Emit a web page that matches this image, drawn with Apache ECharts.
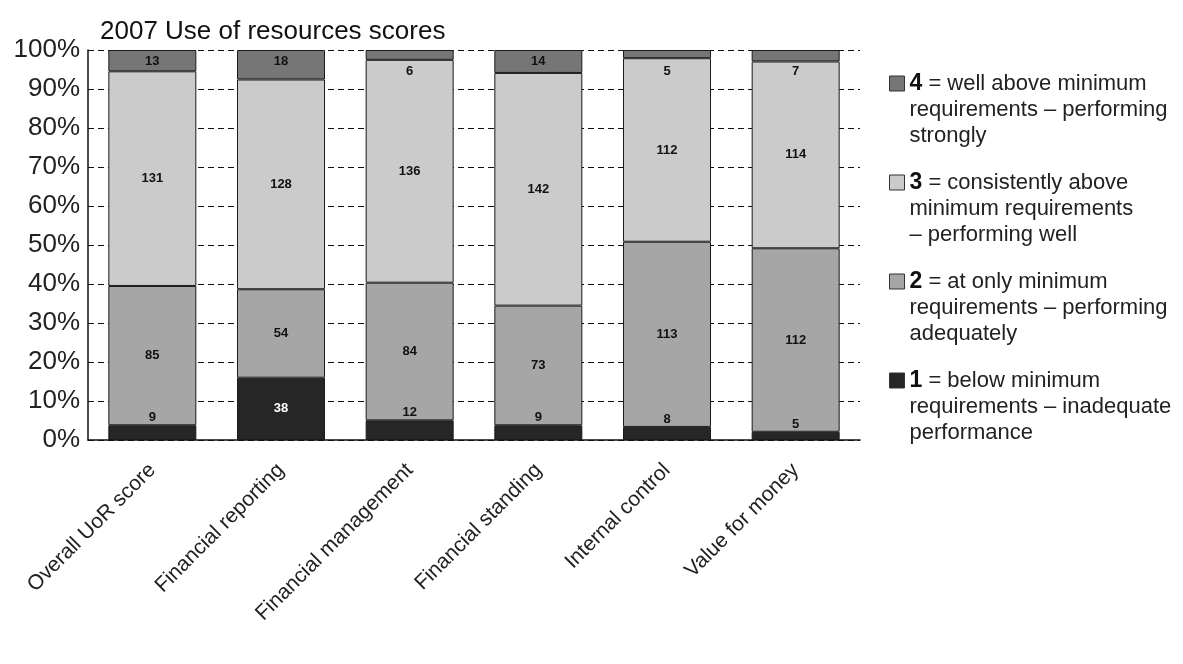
<!DOCTYPE html>
<html>
<head>
<meta charset="utf-8">
<title>2007 Use of resources scores</title>
<script src="https://cdn.jsdelivr.net/npm/echarts@6/dist/echarts.min.js"></script>
<style>
  html, body { margin: 0; padding: 0; background: #ffffff; }
  #chart { width: 1183px; height: 664px; }
</style>
</head>
<body>
<div id="chart"></div>
<script>
// Number of bodies at each score level, per assessment theme
const categories = ['Overall UoR score', 'Financial reporting', 'Financial management',
                    'Financial standing', 'Internal control', 'Value for money'];
const score1 = [9, 38, 12, 9, 8, 5];
const score2 = [85, 54, 84, 73, 113, 112];
const score3 = [131, 128, 136, 142, 112, 114];
const score4 = [13, 18, 6, 14, 5, 7];
const yTicks = ['0%', '10%', '20%', '30%', '40%', '50%', '60%', '70%', '80%', '90%', '100%'];

const legendLines = {
  '4': ['well above minimum', 'requirements – performing', 'strongly'],
  '3': ['consistently above', 'minimum requirements', '– performing well'],
  '2': ['at only minimum', 'requirements – performing', 'adequately'],
  '1': ['below minimum', 'requirements – inadequate', 'performance']
};

const FONT = '"Liberation Sans", Arial, Helvetica, sans-serif';
const totals = categories.map((_, i) => score1[i] + score2[i] + score3[i] + score4[i]);
const share = arr => arr.map((v, i) => v / totals[i] * 100);

const levels = [
  { name: '1', counts: score1, color: '#262626' },
  { name: '2', counts: score2, color: '#a6a6a6' },
  { name: '3', counts: score3, color: '#cbcbcb' },
  { name: '4', counts: score4, color: '#767676' }
];

function labelFor(level, v) {
  const base = { show: true, fontFamily: FONT, fontWeight: 'bold', fontSize: 13, color: '#111' };
  if (level === '1') {
    return v >= 20 ? Object.assign(base, { position: 'inside', color: '#ffffff' })
                   : Object.assign(base, { position: 'top', distance: 1 });
  }
  if (level === '4') {
    return Object.assign(base, { position: 'insideTop', distance: v < 10 ? 15 : 5 });
  }
  return Object.assign(base, { position: 'inside' });
}

const series = levels.map(lv => ({
  name: lv.name,
  type: 'bar',
  stack: 'total',
  barWidth: 88,
  itemStyle: { color: lv.color, borderColor: '#1a1a1a', borderWidth: 1 },
  data: share(lv.counts).map((p, i) => ({
    value: p,
    label: Object.assign(labelFor(lv.name, lv.counts[i]), {
      formatter: () => String(lv.counts[i])
    })
  }))
}));

// Square icon sitting at the top of a three-line legend entry
const LINE_H = 26;
const ITEM_H = LINE_H * 3;
const ICON = 15;
const iconPath = 'path://M0,' + (LINE_H / 2 - ICON / 2) + 'h' + ICON + 'v' + ICON + 'h-' + ICON + 'z M0,0 M' + ICON + ',' + ITEM_H;

const chart = echarts.init(document.getElementById('chart'), null, { renderer: 'canvas' });
chart.setOption({
  backgroundColor: '#ffffff',
  animation: false,
  title: {
    text: '2007 Use of resources scores',
    left: 95, top: 14,
    textStyle: { fontFamily: FONT, fontSize: 26, fontWeight: 'normal', color: '#111' }
  },
  legend: {
    data: ['4', '3', '2', '1'],
    orient: 'vertical',
    left: 884, top: 65,
    itemWidth: ICON, itemHeight: ITEM_H, itemGap: 20,
    icon: iconPath,
    selectedMode: false,
    itemStyle: { borderColor: '#333', borderWidth: 1 },
    formatter: name => {
      const l = legendLines[name];
      return '{b|' + name + '} = ' + l[0] + '\n' + l[1] + '\n' + l[2];
    },
    textStyle: {
      fontFamily: FONT, fontSize: 22, color: '#222', lineHeight: LINE_H,
      rich: { b: { fontFamily: FONT, fontSize: 23, fontWeight: 'bold', color: '#111', lineHeight: LINE_H } }
    }
  },
  grid: { left: 88, right: 323, top: 50, bottom: 224, containLabel: false },
  xAxis: {
    type: 'category',
    data: categories,
    axisLine: { lineStyle: { color: '#111', width: 1.5 } },
    axisTick: { show: false },
    axisLabel: {
      rotate: 45, margin: 27, interval: 0,
      fontFamily: FONT, fontSize: 21, color: '#222'
    }
  },
  yAxis: {
    type: 'value',
    min: 0, max: 100, interval: 10,
    axisLine: { show: true, lineStyle: { color: '#111', width: 1.5 } },
    axisTick: { show: false },
    axisLabel: {
      margin: 8, fontFamily: FONT, fontSize: 26, color: '#222',
      formatter: v => yTicks[Math.round(v / 10)]
    },
    splitLine: { show: true, lineStyle: { color: '#111', width: 1, type: [6, 4] } }
  },
  series: series
});
</script>
</body>
</html>
